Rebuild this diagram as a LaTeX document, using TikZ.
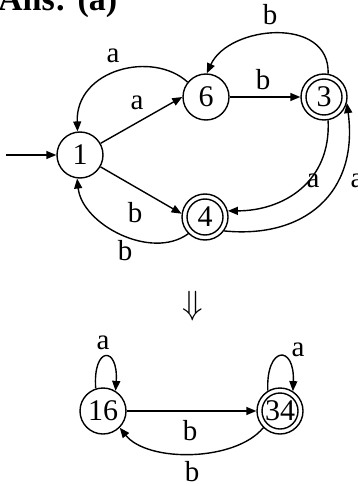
\documentclass[tikz,border=0pt]{standalone}
\usepackage{fontspec}
\setmainfont{Liberation Serif}
\usetikzlibrary{arrows.meta}
\begin{document}
\begin{tikzpicture}[x=1pt,y=-1pt,
  state/.style={draw,circle,line width=1.4pt,minimum size=46pt,inner sep=0pt,font=\fontsize{30}{32}\selectfont},
  lbl/.style={font=\fontsize{29}{31}\selectfont,inner sep=0pt,anchor=base},
  edge/.style={line width=1.4pt,-{Triangle[length=10pt,width=8pt]}}]
\useasboundingbox (0,0) rectangle (357,486);
% title
\node[anchor=base west,inner sep=0pt,font=\fontsize{34}{36}\selectfont\bfseries] (title) at (-2,11) {Ans: (a)};
% upper automaton
\node[state] (n1) at (80,155) {1};
\node[state] (n6) at (206,97) {6};
\node[state] (n3) at (324,97) {3};
\node[state] (n4) at (205,217) {4};
\draw[line width=1.4pt] (n3) circle (18pt);
\draw[line width=1.4pt] (n4) circle (18pt);
\coordinate (start) at (6,155);
\draw[edge] (start) -- (n1);
\draw[edge] (n1) -- (n6.west);
\draw[edge] (n6) -- (n3);
\draw[edge] (n1) -- (n4.172);
\draw[edge] (n6.141) .. controls +(-35,-32) and +(-2,-62) .. (n1.96);
\draw[edge] (n3.80) .. controls +(2,-58) and +(22,-48) .. (n6.88);
\draw[edge] (n3.-80) .. controls +(3,62) and +(55,0) .. (n4.15);
\draw[edge] (n4.-36) .. controls +(80,8) and +(12,90) .. (n3.-15);
\draw[edge] (n4.225) .. controls +(-37,27) and +(5,46) .. (n1.263);
\node[lbl] (la1) at (113,63) {a};
\node[lbl] (la2) at (137,110) {a};
\node[lbl] (lb1) at (270,25) {b};
\node[lbl] (lb2) at (263,90) {b};
\node[lbl] (la3) at (313,187) {a};
\node[lbl] (la4) at (357,187) {a};
\node[lbl] (lb3) at (135,222) {b};
\node[lbl] (lb4) at (125,260) {b};
% arrow down
\node[inner sep=0pt] (dn) at (193,306) {\scalebox{1.35}{\fontsize{30}{32}\selectfont$\Downarrow$}};
% lower automaton
\node[state] (n16) at (103,411) {16};
\node[state] (n34) at (280,411) {34};
\draw[line width=1.4pt] (n34) circle (18pt);
\draw[edge] (n16) -- (n34);
\draw[edge] (n34.-135) .. controls +(-28,34) and +(28,35) .. (n16.-45);
\draw[edge] (n16.108) .. controls +(-3,-43) and +(3,-45) .. (n16.58);
\draw[edge] (n34.121) .. controls +(-2,-45) and +(2,-47) .. (n34.57);
\node[lbl] (la5) at (103,349) {a};
\node[lbl] (la6) at (298,356) {a};
\node[lbl] (lb5) at (190,440) {b};
\node[lbl] (lb6) at (192,481) {b};
\end{tikzpicture}
\end{document}
